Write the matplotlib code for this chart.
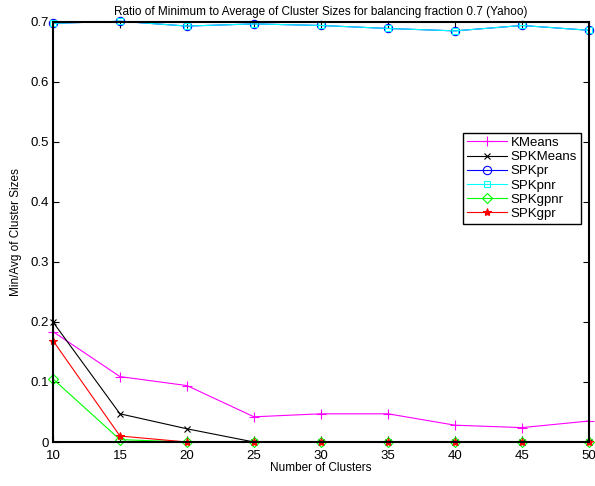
import numpy as np
import matplotlib
matplotlib.use('Agg')
import matplotlib.pyplot as plt

plt.rcParams['font.family'] = ['Liberation Sans', 'DejaVu Sans']

clusters = [10, 15, 20, 25, 30, 35, 40, 45, 50]

kmeans   = [0.184, 0.109, 0.094, 0.042, 0.047, 0.047, 0.028, 0.024, 0.035]
spkmeans = [0.200, 0.047, 0.022, 0.0, 0.0, 0.0, 0.0, 0.0, 0.0]
spkpr    = [0.6975, 0.701, 0.693, 0.6966, 0.694, 0.689, 0.685, 0.694, 0.686]
spkpnr   = [0.6975, 0.701, 0.693, 0.6966, 0.694, 0.689, 0.685, 0.694, 0.686]
spkgpnr  = [0.105, 0.004, 0.0, 0.0, 0.0, 0.0, 0.0, 0.0, 0.0]
spkgpr   = [0.169, 0.010, 0.0, 0.0, 0.0, 0.0, 0.0, 0.0, 0.0]

fig = plt.figure(figsize=(5.95, 4.86), dpi=100)
ax = fig.add_axes([0.089, 0.0905, 0.901, 0.8645])

lw = 0.8
style = dict(lw=lw, mew=0.8, clip_on=False)
ax.plot(clusters, kmeans, '-+', color='#ff00ff', ms=7, label='KMeans', **style)
ax.plot(clusters, spkmeans, '-x', color='black', ms=5, label='SPKMeans', **style)
ax.plot(clusters, spkpr, '-o', color='#0000ff', ms=6, mfc='none', label='SPKpr', **style)
ax.plot(clusters, spkpnr, '-s', color='#00ffff', ms=5, mfc='none', label='SPKpnr', **style)
ax.plot(clusters, spkgpnr, '-D', color='#00ff00', ms=5, mfc='none', label='SPKgpnr', **style)
ax.plot(clusters, spkgpr, '-*', color='#ff0000', ms=6, label='SPKgpr', **style)

ax.set_xlim(10, 50)
ax.set_ylim(0, 0.7)
ax.set_xticks(clusters)
ax.set_yticks(np.arange(0, 0.71, 0.1))
ax.set_yticklabels(['0', '0.1', '0.2', '0.3', '0.4', '0.5', '0.6', '0.7'])
ax.tick_params(direction='in', top=True, right=True, labelsize=9.5, length=4, width=0.8)
ax.tick_params(axis='x', pad=5.5)
ax.tick_params(axis='y', pad=3)
for s in ax.spines.values():
    s.set_linewidth(1.5)
    s.set_zorder(3)

ax.set_title('Ratio of Minimum to Average of Cluster Sizes for balancing fraction 0.7 (Yahoo)',
             fontsize=8.5, pad=5)
ax.set_xlabel('Number of Clusters', fontsize=8.5, labelpad=0)
ax.set_ylabel('Min/Avg of Cluster Sizes', fontsize=8.5, labelpad=6)

leg = ax.legend(loc='upper left', bbox_to_anchor=(0.765, 0.736), fontsize=9.5,
                frameon=True, fancybox=False, edgecolor='black', framealpha=1,
                handlelength=3.0, borderpad=0.3, labelspacing=0.15, handletextpad=0.3,
                borderaxespad=0)
leg.get_frame().set_linewidth(1.0)

plt.savefig('out.png', dpi=100)
